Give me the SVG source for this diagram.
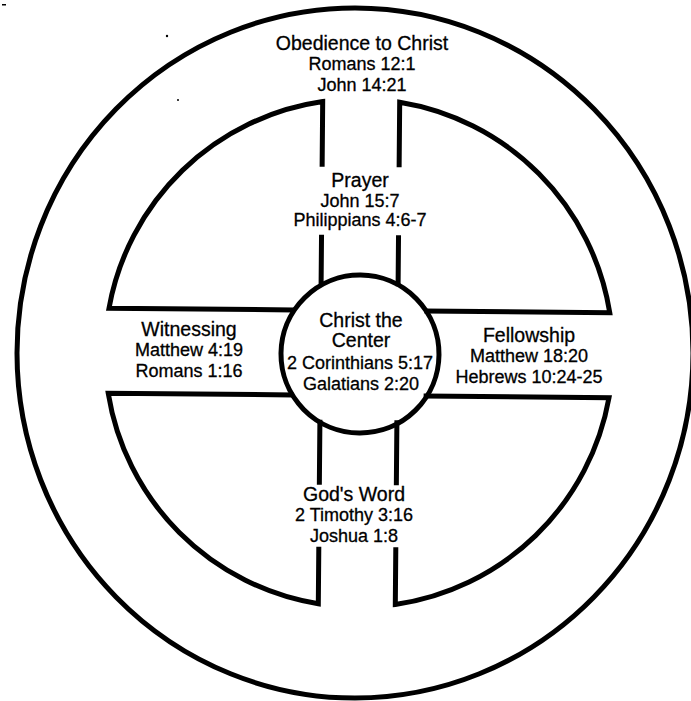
<svg xmlns="http://www.w3.org/2000/svg" width="691" height="701" viewBox="0 0 691 701">
  <style>
    .ln { fill: none; stroke: #000; stroke-width: 5; stroke-linejoin: miter; }
    text { font-family: "Liberation Sans", Arial, sans-serif; fill: #000; stroke: #000; stroke-width: 0.3; text-anchor: middle; }
    .t { font-size: 19.5px; }
    .r { font-size: 18px; }
    .speck { fill: #000; }
  </style>
  <rect width="691" height="701" fill="#fff"/>
  <g id="specks">
    <rect class="speck" x="2" y="4" width="4" height="1.5"/>
    <circle class="speck" cx="167" cy="36" r="1.2"/>
    <circle class="speck" cx="178" cy="100" r="1"/>
  </g>
  <g id="obedience">
    <ellipse class="ln" cx="355" cy="353" rx="338" ry="345"/>
    <text class="t" x="362" y="50">Obedience to Christ</text>
    <text class="r" x="362" y="70">Romans 12:1</text>
    <text class="r" x="362" y="91">John 14:21</text>
  </g>
  <g id="wheel" transform="rotate(0.5 359 353)">
    <path class="ln" d="M294,310.5 H108.6 A254,254 0 0 1 320.5,101.9 V167 M320.5,235 V286"/>
    <path class="ln" d="M397.5,167 V101.9 A254,254 0 0 1 609.4,310.5 H424 M397.5,235 V286"/>
    <path class="ln" d="M424,395.5 H609.4 A254,254 0 0 1 397.5,604.1 V547 M397.5,485 V420"/>
    <path class="ln" d="M320.5,547 V604.1 A254,254 0 0 1 108.6,395.5 H294 M320.5,485 V420"/>
  </g>
  <g id="prayer">
    <text class="t" x="360" y="187">Prayer</text>
    <text class="r" x="360" y="207">John 15:7</text>
    <text class="r" x="360" y="226">Philippians 4:6-7</text>
  </g>
  <g id="witnessing">
    <text class="t" x="189" y="336">Witnessing</text>
    <text class="r" x="189" y="356">Matthew 4:19</text>
    <text class="r" x="189" y="377">Romans 1:16</text>
  </g>
  <g id="center">
    <circle class="ln" cx="360" cy="354" r="79" transform="rotate(0.5 359 353)"/>
    <text class="t" x="361" y="327">Christ the</text>
    <text class="t" x="361" y="347">Center</text>
    <text class="r" x="360" y="369">2 Corinthians 5:17</text>
    <text class="r" x="361" y="390">Galatians 2:20</text>
  </g>
  <g id="fellowship">
    <text class="t" x="529" y="342">Fellowship</text>
    <text class="r" x="529" y="362">Matthew 18:20</text>
    <text class="r" x="529" y="383">Hebrews 10:24-25</text>
  </g>
  <g id="gods-word">
    <text class="t" x="354" y="501">God's Word</text>
    <text class="r" x="354" y="521">2 Timothy 3:16</text>
    <text class="r" x="354" y="542">Joshua 1:8</text>
  </g>
</svg>
